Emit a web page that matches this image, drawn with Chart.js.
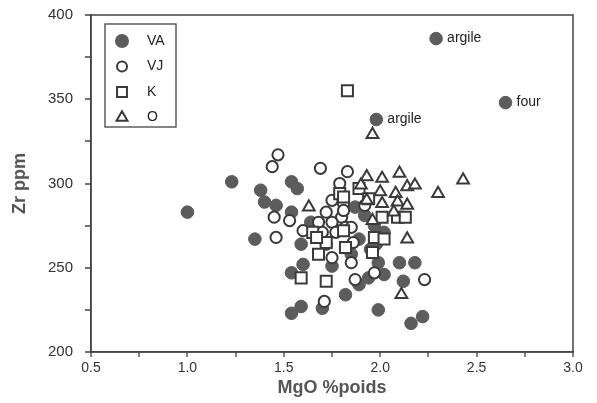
<!DOCTYPE html>
<html lang="fr">
<head>
    <meta charset="UTF-8">
    <title>Zr vs MgO</title>
    <script src="https://cdn.jsdelivr.net/npm/chart.js"></script>
    <style>
        html, body { margin: 0; padding: 0; background: #fff; }
        #wrap { width: 597px; height: 403px; }
    </style>
</head>
<body>
<div id="wrap"><canvas id="zrChart" width="597" height="403"></canvas></div>

<script>
// VA (filled circles)
const vaX = [1.00, 1.23, 1.38, 1.54, 1.57, 1.40, 1.46, 1.54, 1.64, 1.35, 1.59, 1.60, 1.54, 1.59, 1.54,
             1.70, 1.75, 1.82, 1.99, 2.16, 2.22, 2.10, 2.18, 2.12, 2.02, 1.94, 1.89, 1.95, 1.99, 1.92,
             1.97, 2.02, 1.98, 1.89, 1.85, 1.87, 2.29, 2.65, 1.98];
const vaY = [283, 301, 296, 301, 297, 289, 287, 283, 277, 267, 264, 252, 247, 227, 223,
             226, 251, 234, 225, 217, 221, 253, 253, 242, 246, 244, 240, 261, 253, 281,
             275, 271, 264, 267, 258, 286, 386, 348, 338];

// VJ (open circles)
const vjX = [1.47, 1.44, 1.69, 1.83, 1.79, 1.75, 1.81, 1.80, 1.75, 1.45, 1.53, 1.60, 1.46, 1.71, 1.85,
             1.87, 1.97, 2.23, 1.75, 1.86, 1.81, 1.82, 1.72, 1.68, 1.70, 1.85, 1.77, 1.72, 1.92];
const vjY = [317, 310, 309, 307, 300, 290, 288, 280, 277, 280, 278, 272, 268, 230, 253,
             243, 247, 243, 256, 265, 284, 274, 283, 277, 271, 274, 271, 264, 287];

// K (squares)
const kX = [1.83, 1.79, 1.89, 1.81, 1.94, 2.01, 2.09, 2.13, 1.97, 1.96, 1.82, 2.02, 1.65, 1.72, 1.68,
            1.59, 1.72, 1.67, 1.81];
const kY = [355, 294, 297, 292, 291, 280, 280, 280, 268, 259, 262, 267, 271, 265, 258,
            244, 242, 268, 272];

// O (triangles)
const oX = [1.96, 1.63, 1.93, 2.01, 2.10, 1.90, 2.08, 2.14, 2.18, 2.30, 2.43, 2.00, 1.93, 2.09, 2.14,
            2.01, 1.96, 2.14, 2.11, 2.07];
const oY = [329, 286, 304, 303, 306, 299, 294, 298, 299, 294, 302, 295, 290, 289, 287,
            288, 278, 267, 234, 283];

// text next to some points
const noteX = [2.29, 2.65, 1.98];
const noteY = [386, 348, 338];
const noteText = ["argile", "four", "argile"];

const legendNames = ["VA", "VJ", "K", "O"];

const FONT = "'Liberation Sans', Arial, sans-serif";
const INK = "#3a3a3a";

function pts(xs, ys) {
    return xs.map((x, i) => ({ x: x, y: ys[i] }));
}

// frame round the plot area + short outward tick marks
const framePlugin = {
    id: "frame",
    afterDraw(chart) {
        const a = chart.chartArea, ctx = chart.ctx;
        const sx = chart.scales.x, sy = chart.scales.y;
        ctx.save();
        ctx.strokeStyle = "#444";
        ctx.lineWidth = 1.5;
        ctx.strokeRect(a.left, a.top, a.right - a.left, a.bottom - a.top);
        ctx.lineWidth = 1.3;
        ctx.beginPath();
        sy.ticks.forEach(t => {
            const py = Math.round(sy.getPixelForValue(t.value));
            ctx.moveTo(a.left - 6, py);
            ctx.lineTo(a.left, py);
        });
        sx.ticks.forEach(t => {
            const px = Math.round(sx.getPixelForValue(t.value));
            ctx.moveTo(px, a.bottom);
            ctx.lineTo(px, a.bottom + 5);
        });
        ctx.stroke();
        ctx.restore();
    }
};

// point labels (argile / four)
const notePlugin = {
    id: "notes",
    afterDatasetsDraw(chart) {
        const ctx = chart.ctx, sx = chart.scales.x, sy = chart.scales.y;
        ctx.save();
        ctx.font = "14px " + FONT;
        ctx.fillStyle = "#222";
        ctx.textBaseline = "middle";
        noteText.forEach((t, i) => {
            ctx.fillText(t, sx.getPixelForValue(noteX[i]) + 11, sy.getPixelForValue(noteY[i]));
        });
        ctx.restore();
    }
};

// legend box inside the plot, top left
const legendPlugin = {
    id: "boxLegend",
    afterDraw(chart) {
        const a = chart.chartArea, ctx = chart.ctx;
        const x0 = a.left + 14, y0 = a.top + 9, w = 71, h = 103;
        ctx.save();
        ctx.fillStyle = "#fff";
        ctx.fillRect(x0, y0, w, h);
        ctx.strokeStyle = "#444";
        ctx.lineWidth = 1.3;
        ctx.strokeRect(x0, y0, w, h);
        ctx.font = "14px " + FONT;
        ctx.textBaseline = "middle";
        chart.data.datasets.forEach((ds, i) => {
            const cy = y0 + 17 + i * 25.5;
            ctx.fillStyle = ds.backgroundColor;
            ctx.strokeStyle = ds.borderColor;
            ctx.lineWidth = 2;
            Chart.helpers.drawPoint(ctx, { pointStyle: ds.pointStyle, radius: ds.legendRadius, borderWidth: 2, rotation: 0 },
                x0 + 17, cy);
            ctx.fillStyle = "#222";
            ctx.fillText(legendNames[i], x0 + 42, cy);
        });
        ctx.restore();
    }
};

new Chart(document.getElementById("zrChart"), {
    type: "scatter",
    data: {
        datasets: [
            {
                label: "VA", data: pts(vaX, vaY), pointStyle: "circle", pointRadius: 6.3,
                backgroundColor: "#5c5c5c", borderColor: "#5c5c5c", borderWidth: 1,
                legendRadius: 6, order: 4
            },
            {
                label: "VJ", data: pts(vjX, vjY), pointStyle: "circle", pointRadius: 5.6,
                backgroundColor: "#ffffff", borderColor: INK, borderWidth: 2,
                legendRadius: 5, order: 3
            },
            {
                label: "K", data: pts(kX, kY), pointStyle: "rect", pointRadius: 7.8,
                backgroundColor: "#ffffff", borderColor: INK, borderWidth: 2,
                legendRadius: 7, order: 2
            },
            {
                label: "O", data: pts(oX, oY), pointStyle: "triangle", pointRadius: 6.8,
                backgroundColor: "#ffffff", borderColor: INK, borderWidth: 2,
                legendRadius: 6.3, order: 1
            }
        ]
    },
    options: {
        responsive: false,
        animation: false,
        layout: { padding: { top: 15, right: 24, left: 0, bottom: 0 } },
        plugins: {
            legend: { display: false },
            tooltip: { enabled: false }
        },
        scales: {
            x: {
                type: "linear",
                min: 0.5,
                max: 3.0,
                afterFit(s) { s.height = 51; },
                ticks: {
                    stepSize: 0.25,
                    autoSkip: false,
                    maxRotation: 0,
                    padding: 3,
                    color: "#333",
                    font: { family: FONT, size: 14 },
                    callback: v => (Math.abs(v * 2 - Math.round(v * 2)) < 1e-6 ? v.toFixed(1) : "")
                },
                grid: { drawOnChartArea: false, drawTicks: true, tickLength: 5, tickColor: "rgba(0,0,0,0)" },
                border: { display: true, color: "#444", width: 1.5 },
                title: {
                    display: true,
                    text: "MgO %poids",
                    color: "#555",
                    padding: { top: 0, bottom: 4 },
                    font: { family: FONT, size: 18, weight: "bold" }
                }
            },
            y: {
                type: "linear",
                min: 200,
                max: 400,
                afterFit(s) { s.width = 91; },
                ticks: {
                    stepSize: 25,
                    autoSkip: false,
                    padding: 3,
                    color: "#333",
                    font: { family: FONT, size: 15 },
                    callback: v => (v % 50 === 0 ? String(v) : "")
                },
                grid: { drawOnChartArea: false, drawTicks: true, tickLength: 15, tickColor: "rgba(0,0,0,0)" },
                border: { display: true, color: "#444", width: 1.5 },
                title: {
                    display: true,
                    text: "Zr ppm",
                    color: "#555",
                    padding: { top: 9, bottom: 0 },
                    font: { family: FONT, size: 18, weight: "bold" }
                }
            }
        }
    },
    plugins: [framePlugin, notePlugin, legendPlugin]
});
</script>
</body>
</html>
